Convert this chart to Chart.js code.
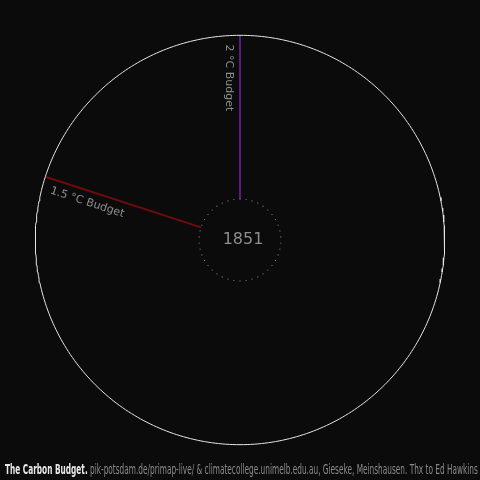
<!DOCTYPE html>
<html>
<head>
<meta charset="utf-8">
<script src="https://cdn.jsdelivr.net/npm/chart.js@4"></script>
<style>
  html, body { margin: 0; padding: 0; background: #0b0b0b; }
  #wrap { position: relative; width: 480px; height: 480px; overflow: hidden; }
  #chart { position: absolute; left: 0; top: 0; }
  #footer {
    position: absolute; left: 5px; top: 461px; white-space: nowrap;
    font-family: "DejaVu Sans Condensed", "DejaVu Sans", sans-serif;
    font-stretch: condensed;
    font-size: 14px; color: #8a8a8a; transform-origin: 0 0;
  }
  #footer b { color: #e8e8e8; }
</style>
</head>
<body>
<div id="wrap">
  <canvas id="chart" width="480" height="480"></canvas>
  <div id="footer"><b>The Carbon Budget.</b> pik-potsdam.de/primap-live/ &amp; climatecollege.unimelb.edu.au, Gieseke, Meinshausen. Thx to Ed Hawkins</div>
</div>
<script>
'use strict';

// year shown in the middle
const currentYear = '1851';
// budgets, as share of one full turn of the circle (2 °C = one turn)
const budgetLabels = ['2 °C Budget', '1.5 °C Budget'];
const budgetTurns = [1.0, 0.8];
const budgetColors = ['#5b1a80', '#6e0c0c'];

const innerR = 0.2;
const outerR = 1.0;

function polar(turn, r) {
  let a = turn * 2 * Math.PI;
  return { x: r * Math.sin(a), y: r * Math.cos(a) };
}

function ring(r, n) {
  let pts = [];
  for (let i = 0; i <= n; i++) {
    pts.push(polar(i / n, r));
  }
  return pts;
}

let datasets = [];

datasets.push({
  label: 'outer',
  data: ring(outerR, 360),
  showLine: true,
  borderColor: '#e6e6e6',
  borderWidth: 1,
  pointRadius: 0,
});

datasets.push({
  label: 'inner',
  data: ring(innerR, 42).slice(0, 42),
  showLine: false,
  pointRadius: 0.6,
  pointBorderWidth: 0,
  pointBackgroundColor: '#8a8a8a',
});

budgetTurns.forEach((t, i) => {
  datasets.push({
    label: budgetLabels[i],
    data: [polar(t, innerR), polar(t, outerR)],
    showLine: true,
    borderColor: budgetColors[i],
    borderWidth: 2,
    pointRadius: 0,
  });
});

const labelPlugin = {
  id: 'labels',
  afterDatasetsDraw(chart) {
    const ctx = chart.ctx;
    const xs = chart.scales.x;
    const ys = chart.scales.y;
    ctx.save();
    ctx.fillStyle = '#8e8e8e';
    ctx.font = '16px "DejaVu Sans"';
    ctx.textAlign = 'center';
    ctx.textBaseline = 'middle';
    ctx.fillText(currentYear, xs.getPixelForValue(0) + 3, ys.getPixelForValue(0));

    ctx.font = '11px "DejaVu Sans"';
    ctx.textAlign = 'left';
    ctx.textBaseline = 'top';
    budgetTurns.forEach((t, i) => {
      let p = polar(t, 0.955);
      let a = t * 2 * Math.PI;
      ctx.save();
      ctx.translate(xs.getPixelForValue(p.x), ys.getPixelForValue(p.y));
      ctx.rotate(Math.atan2(Math.cos(a), -Math.sin(a)));
      ctx.fillText(budgetLabels[i], 0, 6);
      ctx.restore();
    });
    ctx.restore();
  }
};

const lim = 1.153;

new Chart(document.getElementById('chart'), {
  type: 'scatter',
  data: { datasets: datasets },
  options: {
    responsive: false,
    animation: false,
    layout: { padding: 0 },
    plugins: {
      legend: { display: false },
      tooltip: { enabled: false },
    },
    scales: {
      x: { type: 'linear', min: -lim, max: lim, display: false },
      y: { type: 'linear', min: -lim, max: lim, display: false },
    }
  },
  plugins: [labelPlugin]
});

// squeeze the credit line to the width it has in the picture
const footerEl = document.getElementById('footer');
footerEl.style.transform = 'scaleX(' + (473 / footerEl.scrollWidth) + ')';
</script>
</body>
</html>
